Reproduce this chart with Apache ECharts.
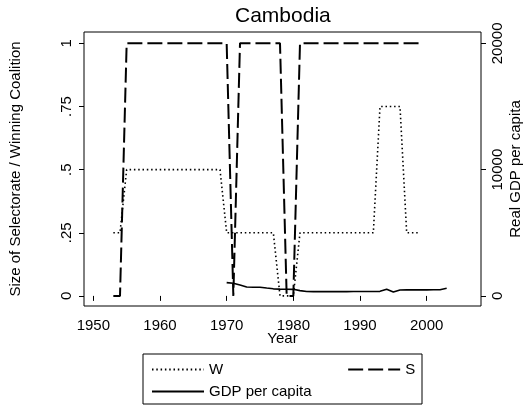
<!DOCTYPE html>
<html>
<head>
<meta charset="utf-8">
<script src="https://cdn.jsdelivr.net/npm/echarts@6/dist/echarts.min.js"></script>
<style>html,body{margin:0;padding:0;background:#fff;}#c{width:526px;height:406px;}</style>
</head>
<body>
<div id="c"></div>
<script>
// ---- data ----
const yearsWS = [1953,1954,1955,1956,1957,1958,1959,1960,1961,1962,1963,1964,1965,1966,1967,1968,1969,1970,1971,1972,1973,1974,1975,1976,1977,1978,1979,1980,1981,1982,1983,1984,1985,1986,1987,1988,1989,1990,1991,1992,1993,1994,1995,1996,1997,1998,1999];
const W = [0.25,0.25,0.5,0.5,0.5,0.5,0.5,0.5,0.5,0.5,0.5,0.5,0.5,0.5,0.5,0.5,0.5,0.25,0.25,0.25,0.25,0.25,0.25,0.25,0.25,0,0,0,0.25,0.25,0.25,0.25,0.25,0.25,0.25,0.25,0.25,0.25,0.25,0.25,0.75,0.75,0.75,0.75,0.25,0.25,0.25];
const S = [0,0,1,1,1,1,1,1,1,1,1,1,1,1,1,1,1,1,0,1,1,1,1,1,1,1,0,0,1,1,1,1,1,1,1,1,1,1,1,1,1,1,1,1,1,1,1];
const yearsGDP = [1970,1971,1972,1973,1974,1975,1976,1977,1978,1979,1980,1981,1982,1983,1984,1985,1986,1987,1988,1989,1990,1991,1992,1993,1994,1995,1996,1997,1998,1999,2000,2001,2002,2003];
const GDP = [1050,1000,860,700,690,690,620,560,540,530,520,420,350,340,340,340,340,340,340,345,345,350,350,360,520,300,470,480,480,480,480,485,490,600];
const xTicks = [1950,1960,1970,1980,1990,2000];
const leftTicks = [0,0.25,0.5,0.75,1];
const leftTickLabels = ['0','.25','.5','.75','1'];
const rightTicks = [0,10000,20000];

const FONT = 'Liberation Sans, Arial, Helvetica, sans-serif';
const zip = (xs, ys) => xs.map((x, i) => [x, ys[i]]);

const chart = echarts.init(document.getElementById('c'), null, {renderer: 'canvas'});
const axisCommon = () => ({
  axisLine: {show: false},
  splitLine: {show: false},
  nameMoveOverlap: false,
  axisTick: {show: true, length: 5, inside: false, lineStyle: {color: '#000', width: 1}},
  axisLabel: {color: '#000', fontFamily: FONT, fontSize: 15},
  nameTextStyle: {color: '#000', fontFamily: FONT, fontSize: 15}
});
const legendCommon = () => ({
  padding: 0, itemWidth: 52, itemHeight: 14, selectedMode: false,
  itemStyle: {opacity: 0, borderWidth: 0},
  textStyle: {color: '#000', fontFamily: FONT, fontSize: 15}
});
const ax = (extra, tickVals, labelExtra) => {
  const a = axisCommon();
  Object.assign(a, extra);
  a.axisTick.customValues = tickVals;
  Object.assign(a.axisLabel, {customValues: tickVals}, labelExtra);
  return a;
};
const rightAxis = ax({type: 'value', position: 'right', min: -800, max: 20900,
    name: 'Real GDP per capita', nameLocation: 'middle', nameGap: 27},
  rightTicks, {rotate: 90, margin: 9, verticalAlign: 'top', formatter: v => String(v)});
rightAxis.nameTextStyle.verticalAlign = 'top';

chart.setOption({
  animation: false,
  backgroundColor: '#fff',
  title: {
    text: 'Cambodia', left: 235, top: 6, padding: 0,
    textStyle: {color: '#000', fontFamily: FONT, fontSize: 21, fontWeight: 'normal'}
  },
  grid: {left: 84, right: 45, top: 32, bottom: 100, containLabel: false, outerBoundsMode: 'none',
         show: true, borderColor: '#000', borderWidth: 1, backgroundColor: 'transparent'},
  xAxis: ax({type: 'value', min: 1948.6, max: 2008.15, name: 'Year', nameLocation: 'middle', nameGap: 25},
    xTicks, {margin: 12, formatter: v => String(v)}),
  yAxis: [
    ax({type: 'value', position: 'left', min: -0.04, max: 1.045,
        name: 'Size of Selectorate / Winning Coalition', nameLocation: 'middle', nameGap: 61},
      leftTicks, {rotate: 90, margin: 10, formatter: v => leftTickLabels[leftTicks.indexOf(v)] ?? String(v)}),
    rightAxis
  ],
  legend: [
    Object.assign(legendCommon(), {data: ['W', 'S'], left: 151, top: 362, itemGap: 124}),
    Object.assign(legendCommon(), {data: ['GDP per capita'], left: 151, top: 384})
  ],
  graphic: [{
    type: 'rect', shape: {x: 143, y: 354, width: 279, height: 50},
    style: {fill: 'none', stroke: '#000', lineWidth: 1}, silent: true
  }],
  series: [
    {
      name: 'W', type: 'line', yAxisIndex: 0, data: zip(yearsWS, W),
      symbol: 'none', color: '#000',
      lineStyle: {color: '#000', width: 1.6, type: [1.5, 2.8]}
    },
    {
      name: 'S', type: 'line', yAxisIndex: 0, data: zip(yearsWS, S),
      symbol: 'none', color: '#000',
      lineStyle: {color: '#000', width: 2, type: [15, 5]}
    },
    {
      name: 'GDP per capita', type: 'line', yAxisIndex: 1, data: zip(yearsGDP, GDP),
      symbol: 'none', color: '#000',
      lineStyle: {color: '#000', width: 1.6, type: 'solid'}
    }
  ]
});
</script>
</body>
</html>
